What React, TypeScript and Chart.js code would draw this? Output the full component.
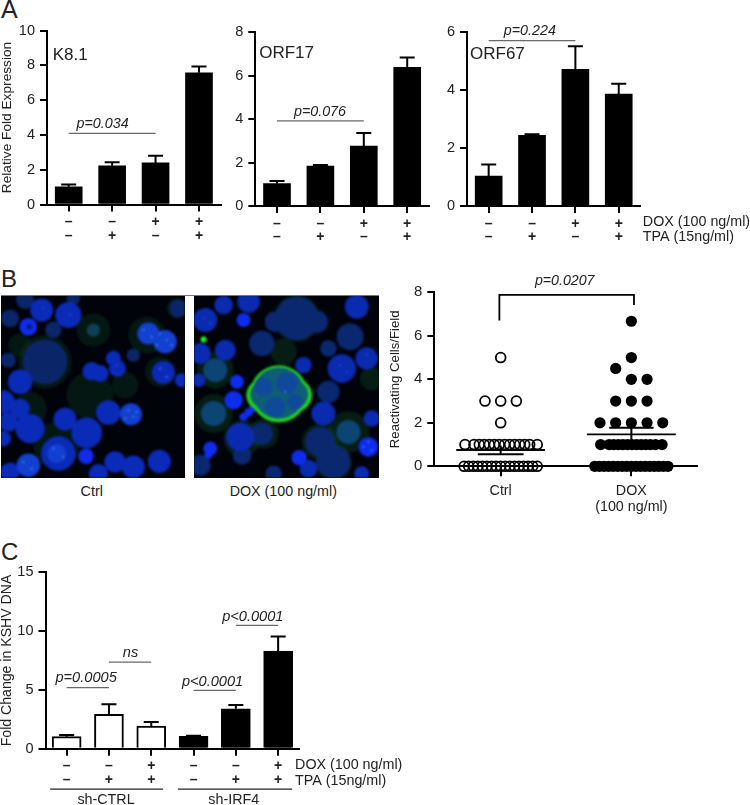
import React, { useEffect, useRef } from "react";
import { Chart, registerables } from "chart.js";

Chart.register(...registerables);
Chart.defaults.font.family = "'Liberation Sans', Arial, sans-serif";
Chart.defaults.color = "#222";

// ---------- Panel A ----------
const conditionLabels = [["–", "–"], ["–", "+"], ["+", "–"], ["+", "+"]];
const k81Values = [1.02, 2.22, 2.39, 7.57];
const k81Tops = [1.15, 2.43, 2.8, 7.93];
const orf17Values = [1.03, 1.84, 2.76, 6.39];
const orf17Tops = [1.15, 1.89, 3.36, 6.84];
const orf67Values = [1.03, 2.44, 4.72, 3.87];
const orf67Tops = [1.43, 2.48, 5.52, 4.22];
const k81PLine = [4.09, null, 4.09, null];
const orf17PLine = [3.92, null, 3.92, null];
const orf67PLine = [5.71, null, 5.71, null];

// ---------- Panel B images (nuclei: x, y, radius) ----------
type P = number[];
const ctrlHalo: P[] = [[135,290,80],[270,390,70],[375,360,40],[170,540,70],[280,195,50],[60,240,35],[480,320,45],[440,210,55],[90,430,50],[530,130,30]];
const ctrlDim: P[] = [[135,290,60],[30,160,24],[75,105,24],[160,195,22],[220,100,18],[535,130,24],[25,285,20],[400,270,18]];
const ctrlTeal: P[] = [[280,195,20]];
const ctrlMid: P[] = [[125,135,30],[205,150,34],[60,350,32],[275,318,24],[300,325,22],[340,280,20],[352,310,22],[490,322,30],[545,345,18],[60,430,26],[10,410,30],[90,490,38],[25,470,25],[195,462,30],[325,442,32],[260,503,40],[175,565,45],[345,590,28],[400,605,30],[478,588,30],[295,625,25],[30,620,25],[10,520,20]];
const ctrlLight: P[] = [[445,205,30],[495,230,32],[393,447,30],[85,600,32],[170,565,26]];
const ctrlBright: P[] = [[85,185,25],[258,573,22]];
const ctrlHole: P[] = [[88,185,8]];
const ctrlSpeck: P[] = [[430,195,3],[455,215,3],[480,205,3],[500,225,3],[515,240,3],[470,240,3],[385,435,3],[400,455,3],[410,440,3],[375,460,3],[70,590,3],[95,610,3],[160,550,3],[190,575,3],[480,310,3],[500,335,3],[130,130,2],[210,150,2],[350,300,2]];

const doxHalo: P[] = [[645,315,55],[640,445,58],[1045,500,62],[960,530,55],[1000,590,55],[890,160,70],[725,520,55],[790,505,45],[850,260,40],[1115,340,35]];
const doxDim: P[] = [[890,160,58],[950,170,30],[825,170,28],[785,235,34],[985,380,30],[1050,215,36],[1000,590,45],[960,530,40],[785,505,30],[725,570,25],[985,250,22],[600,600,28],[820,625,22]];
const doxTeal: P[] = [[645,315,36],[640,445,38],[1045,500,36]];
const doxMid: P[] = [[615,165,32],[670,120,25],[745,110,30],[600,265,28],[675,255,28],[1070,125,32],[1100,280,30],[1025,310,38],[910,300,22],[595,345,18],[970,445,32],[1115,460,22],[720,515,38],[925,610,24],[1085,625,20]];
const doxBright: P[] = [[730,165,20],[710,350,20],[700,405,26],[730,455,12],[745,442,12],[757,430,11],[1105,545,28],[897,577,22],[630,550,20],[625,568,12]];
const doxGreen: P[] = [[836,386,76],[786,390,42],[886,390,44]];
const doxGreenInner: P[] = [[836,384,68],[790,388,35],[882,388,37]];
const doxInnerNuclei: P[] = [[790,365,26],[860,355,30],[825,425,28],[885,410,22]];
const doxGreenDot: P[] = [[610,223,9]];
const doxSpeck: P[] = [[1105,530,3],[1090,545,3],[1115,555,3],[1020,300,2],[1040,320,2],[1100,270,2],[610,160,2],[630,175,2],[855,380,3]];

// ---------- Panel B dot plot ----------
const ctrlZeroX = [-0.28,-0.245,-0.21,-0.175,-0.14,-0.105,-0.07,-0.035,0,0.035,0.07,0.105,0.14,0.175,0.21,0.245,0.28];
const ctrlOneX = [-0.273,-0.204,-0.164,-0.126,-0.087,-0.049,-0.011,0.03,0.068,0.107,0.145,0.184,0.222,0.28];
const ctrlUpper = [[0,2],[-0.12,3],[0,3],[0.12,3],[0,5]];
const doxZeroX = [-0.28,-0.245,-0.21,-0.175,-0.14,-0.105,-0.07,-0.035,0,0.035,0.07,0.105,0.14,0.175,0.21,0.245,0.28];
const doxOneX = [-0.235,-0.17,-0.135,-0.1,-0.065,-0.03,0.005,0.04,0.075,0.11,0.145,0.185,0.235];
const doxUpper = [[-0.24,2],[-0.12,2],[0,2],[0.12,2],[0.24,2],[-0.12,3],[0,3],[0.12,3],[-0.12,4.5],[0,4],[0.12,4],[0,5],[0,6.67]];
const ctrlMean = 0.75, ctrlSemLow = 0.55, ctrlSemHigh = 0.95;
const doxMean = 1.47, doxSemLow = 1.17, doxSemHigh = 1.77;
const bracketPoints = [[-0.01,6.7],[-0.01,7.88],[1.02,7.88],[1.02,7.42]];
const dotCategoryLabels: (string | string[])[] = ["Ctrl", ["DOX", "(100 ng/ml)"]];

// ---------- Panel C ----------
const shLabels = [["–", "–"], ["–", "+"], ["+", "+"], ["–", "–"], ["–", "+"], ["+", "+"]];
const dnaValues = [1.02, 2.92, 1.93, 1.05, 3.4, 8.31];
const dnaTops = [1.16, 3.77, 2.27, 1.1, 3.71, 9.55];
const dnaColors = ["#fff", "#fff", "#fff", "#000", "#000", "#000"];
const cLine1 = [5.19, 5.19, null, null, null, null];
const cLine2 = [null, 7.37, 7.37, null, null, null];
const cLine3 = [null, null, null, 4.96, 4.96, null];
const cLine4 = [null, null, null, null, 10.49, 10.49];
const cGroups = [
  { text: "sh-CTRL", from: -0.39, to: 2.28, mid: 0.93 },
  { text: "sh-IRF4", from: 2.63, to: 5.33, mid: 3.95 },
];

type Label = { text: string; x: number; y: number; size?: number; italic?: boolean; align?: CanvasTextAlign };

const labelPlugin = (labels: Label[]) => ({
  id: "labels",
  afterDraw(chart: any) {
    const { ctx, scales } = chart;
    ctx.save();
    ctx.fillStyle = "#222";
    ctx.textBaseline = "middle";
    for (const l of labels) {
      ctx.font = `${l.italic ? "italic " : ""}${l.size ?? 14.3}px 'Liberation Sans', Arial, sans-serif`;
      ctx.textAlign = l.align ?? "center";
      ctx.fillText(l.text, scales.x.getPixelForValue(l.x), scales.y.getPixelForValue(l.y));
    }
    ctx.restore();
  },
});

const whiskerPlugin = (values: number[], tops: number[], cap: number) => ({
  id: "whiskers",
  beforeDatasetsDraw(chart: any) {
    const { ctx, scales } = chart;
    ctx.save();
    ctx.strokeStyle = "#000";
    ctx.lineWidth = 2;
    values.forEach((v, i) => {
      const x = scales.x.getPixelForValue(i);
      const y0 = scales.y.getPixelForValue(v);
      const y1 = scales.y.getPixelForValue(tops[i]);
      ctx.beginPath();
      ctx.moveTo(x, y0);
      ctx.lineTo(x, y1);
      ctx.moveTo(x - cap / 2, y1);
      ctx.lineTo(x + cap / 2, y1);
      ctx.stroke();
    });
    ctx.restore();
  },
});

const groupPlugin = {
  id: "groups",
  afterDraw(chart: any) {
    const { ctx, scales } = chart;
    ctx.save();
    ctx.strokeStyle = "#222";
    ctx.lineWidth = 1.2;
    ctx.fillStyle = "#222";
    ctx.textAlign = "center";
    ctx.textBaseline = "middle";
    ctx.font = "14.3px 'Liberation Sans', Arial, sans-serif";
    for (const g of cGroups) {
      const y = scales.y.getPixelForValue(-3.43);
      ctx.beginPath();
      ctx.moveTo(scales.x.getPixelForValue(g.from), y);
      ctx.lineTo(scales.x.getPixelForValue(g.to), y);
      ctx.stroke();
      ctx.fillText(g.text, scales.x.getPixelForValue(g.mid), scales.y.getPixelForValue(-4.37));
    }
    ctx.restore();
  },
};

const axisGrid = { display: true, drawOnChartArea: false, drawTicks: true, tickLength: 7, color: "#000", lineWidth: 2 };
const axisBorder = { display: true, color: "#000", width: 2 };

const pLine = (data: (number | null)[]) => ({
  type: "line" as const,
  data,
  spanGaps: true,
  pointRadius: 0,
  borderColor: "#6a6a6a",
  borderWidth: 1.3,
  clip: false as any,
});

function barConfig(o: {
  labels: string[][]; values: number[]; tops: number[]; lines: (number | null)[][]; max: number; step: number;
  left: number; top: number; bottom: number; right: number; thickness: number; colors: string | string[];
  border: number; title?: string; titleSize?: number; tickSize: number; tickPad: number; tickLine: number;
  yPad: number; texts: Label[]; extra?: any[];
}) {
  return {
    type: "bar",
    data: {
      labels: o.labels,
      datasets: [
        ...o.lines.map(pLine),
        { type: "bar", data: o.values, backgroundColor: o.colors, borderColor: "#000", borderWidth: o.border, barThickness: o.thickness },
      ],
    },
    options: {
      responsive: false,
      animation: false,
      layout: { padding: { top: o.top, right: o.right, left: 0, bottom: 0 } },
      plugins: { legend: { display: false }, tooltip: { enabled: false } },
      scales: {
        x: {
          type: "category",
          offset: true,
          afterFit: (s: any) => { s.height = o.bottom; },
          grid: { ...axisGrid, offset: false },
          border: axisBorder,
          ticks: { autoSkip: false, maxRotation: 0, minRotation: 0, padding: o.tickPad, color: "#222", font: { size: o.tickSize, weight: "bold", lineHeight: o.tickLine / o.tickSize } },
        },
        y: {
          min: 0,
          max: o.max,
          afterFit: (s: any) => { s.width = o.left; },
          grid: axisGrid,
          border: axisBorder,
          ticks: { stepSize: o.step, padding: o.yPad, color: "#222", font: { size: 14.5 } },
          title: o.title ? { display: true, text: o.title, padding: 0, color: "#222", font: { size: o.titleSize, lineHeight: 1 } } : { display: false },
        },
      },
    },
    plugins: [whiskerPlugin(o.values, o.tops, 15), labelPlugin(o.texts), ...(o.extra ?? [])],
  };
}

const toBubbles = (pts: P[], grow: number) => pts.map(([x, y, r]) => ({ x, y, r: (r * grow) / 3 }));

function imageConfig(layers: { pts: P[]; color: string; grow?: number }[], xMin: number, xMax: number) {
  return {
    type: "bubble",
    data: {
      datasets: layers.map((l, i) => ({
        data: toBubbles(l.pts, l.grow ?? 1),
        backgroundColor: l.color,
        borderWidth: 0,
        order: layers.length - i,
      })),
    },
    options: {
      responsive: false,
      animation: false,
      layout: { padding: 0, autoPadding: false },
      plugins: { legend: { display: false }, tooltip: { enabled: false } },
      scales: {
        x: { display: false, min: xMin, max: xMax },
        y: { display: false, min: 90, max: 638, reverse: true },
      },
    },
  };
}

const ctrlImage = () => imageConfig([
  { pts: ctrlHalo, color: "rgba(12,56,30,0.4)" },
  { pts: ctrlDim, color: "#0a2668", grow: 1.12 },
  { pts: ctrlTeal, color: "#0d4058" },
  { pts: ctrlMid, color: "#0a2ab8", grow: 1.15 },
  { pts: ctrlLight, color: "#1240d0", grow: 1.1 },
  { pts: ctrlBright, color: "#0e2cec", grow: 1.05 },
  { pts: ctrlHole, color: "#0a1a80" },
  { pts: ctrlSpeck, color: "#4c90e8" },
], 3, 555);

const doxImage = () => imageConfig([
  { pts: doxHalo, color: "rgba(14,66,34,0.42)" },
  { pts: doxDim, color: "#0a2870", grow: 1.12 },
  { pts: doxTeal, color: "#0c4474" },
  { pts: doxMid, color: "#0a2ab0", grow: 1.12 },
  { pts: doxBright, color: "#0e2cec", grow: 1.05 },
  { pts: doxGreen, color: "#22d022", grow: 1.13 },
  { pts: doxGreenInner, color: "#0e5f74", grow: 1.13 },
  { pts: doxInnerNuclei, color: "#0f4a9a", grow: 1.1 },
  { pts: doxGreenDot, color: "#22f022" },
  { pts: doxSpeck, color: "#4c90e8" },
], 581, 1137);

const segment = (points: number[][], width = 2) => ({
  type: "scatter" as const,
  data: points.map(([x, y]) => ({ x, y })),
  showLine: true,
  pointRadius: 0,
  borderColor: "#000",
  borderWidth: width,
  clip: false as any,
  order: 0,
});

const dots = (points: number[][], filled: boolean) => ({
  type: "scatter" as const,
  data: points.map(([x, y]) => ({ x, y })),
  pointRadius: filled ? 5.6 : 4.9,
  pointBorderWidth: filled ? 0 : 1.8,
  pointBackgroundColor: filled ? "#000" : "rgba(0,0,0,0)",
  pointBorderColor: "#000",
  clip: false as any,
  order: 1,
});

const rowAt = (xs: number[], y: number, offset: number) => xs.map((x) => [x + offset, y]);

const dotConfig = () => ({
  type: "scatter",
  data: {
    datasets: [
      dots([...rowAt(ctrlZeroX, 0, 0), ...rowAt(ctrlOneX, 1, 0), ...ctrlUpper], false),
      dots([...rowAt(doxZeroX, 0, 1), ...rowAt(doxOneX, 1, 1), ...doxUpper.map(([x, y]) => [x + 1, y])], true),
      segment([[-0.34, ctrlMean], [0.34, ctrlMean]], 1.8),
      segment([[-0.175, ctrlSemLow], [0.175, ctrlSemLow]]),
      segment([[0, ctrlSemLow], [0, ctrlSemHigh]]),
      segment([[0.66, doxMean], [1.34, doxMean]], 1.8),
      segment([[0.83, doxSemHigh], [1.17, doxSemHigh]]),
      segment([[1, doxSemLow], [1, doxSemHigh]]),
      segment(bracketPoints, 1.8),
    ],
  },
  options: {
    responsive: false,
    animation: false,
    layout: { padding: { top: 27.3, right: 53.3, left: 0, bottom: 0 }, autoPadding: false },
    plugins: { legend: { display: false }, tooltip: { enabled: false } },
    scales: {
      x: {
        type: "linear",
        min: -0.508,
        max: 1.5,
        afterFit: (s: any) => { s.height = 58.7; },
        afterBuildTicks: (s: any) => { s.ticks = [{ value: 0 }, { value: 1 }]; },
        grid: { ...axisGrid, tickLength: 10 },
        border: axisBorder,
        ticks: {
          autoSkip: false, maxRotation: 0, minRotation: 0, padding: 6, color: "#222",
          font: { size: 14.3, lineHeight: 1.16 },
          callback: (v: number) => dotCategoryLabels[v],
        },
      },
      y: {
        min: 0,
        max: 8,
        afterFit: (s: any) => { s.width = 45.3; },
        grid: axisGrid,
        border: axisBorder,
        ticks: { stepSize: 2, padding: 5, color: "#222", font: { size: 15 } },
        title: { display: true, text: "Reactivating Cells/Field", padding: 0, color: "#222", font: { size: 13.2, lineHeight: 1 } },
      },
    },
  },
  plugins: [labelPlugin([{ text: "p=0.0207", x: 0.49, y: 8.52, italic: true, size: 14.2 }])],
});

const a1 = () => barConfig({
  labels: conditionLabels, values: k81Values, tops: k81Tops, lines: [k81PLine], max: 10, step: 2,
  left: 47, top: 30.5, bottom: 45.5, right: 4.3, thickness: 27, colors: "#000", border: 0,
  title: "Relative Fold Expression", titleSize: 13.7, tickSize: 14, tickPad: 4, tickLine: 13.5, yPad: 5,
  texts: [
    { text: "K8.1", x: -0.37, y: 8.59, size: 17, align: "left" },
    { text: "p=0.034", x: 0.78, y: 4.63, italic: true },
  ],
});
const a2 = () => barConfig({
  labels: conditionLabels, values: orf17Values, tops: orf17Tops, lines: [orf17PLine], max: 8, step: 2,
  left: 30.3, top: 32.3, bottom: 44, right: 6.1, thickness: 27, colors: "#000", border: 0,
  tickSize: 14, tickPad: 4, tickLine: 13.5, yPad: 5,
  texts: [
    { text: "ORF17", x: -0.41, y: 7.05, size: 17, align: "left" },
    { text: "p=0.076", x: 0.99, y: 4.33, italic: true },
  ],
});
const a3 = () => barConfig({
  labels: conditionLabels, values: orf67Values, tops: orf67Tops, lines: [orf67PLine], max: 6, step: 2,
  left: 32, top: 32.3, bottom: 44, right: 109.6, thickness: 27, colors: "#000", border: 0,
  tickSize: 14, tickPad: 4, tickLine: 13.5, yPad: 5,
  texts: [
    { text: "ORF67", x: -0.43, y: 5.25, size: 17, align: "left" },
    { text: "p=0.224", x: 0.95, y: 6.05, italic: true },
    { text: "DOX (100 ng/ml)", x: 3.557, y: -0.543, align: "left" },
    { text: "TPA (15ng/ml)", x: 3.557, y: -1.08, align: "left" },
  ],
});
const c1 = () => barConfig({
  labels: shLabels, values: dnaValues, tops: dnaTops, lines: [cLine1, cLine2, cLine3, cLine4], max: 15, step: 5,
  left: 45.5, top: 37.3, bottom: 56.3, right: 120.7, thickness: 29, colors: dnaColors, border: 2,
  title: "Fold Change in KSHV DNA", titleSize: 14.1, tickSize: 14, tickPad: 3, tickLine: 14.3, yPad: 5,
  texts: [
    { text: "p=0.0005", x: 0.46, y: 5.99, italic: true, size: 14.6 },
    { text: "ns", x: 1.51, y: 8.11, italic: true, size: 14.6 },
    { text: "p<0.0001", x: 3.45, y: 5.7, italic: true, size: 14.6 },
    { text: "p<0.0001", x: 4.4, y: 11.22, italic: true, size: 14.6 },
    { text: "DOX (100 ng/ml)", x: 5.4, y: -1.39, align: "left" },
    { text: "TPA (15ng/ml)", x: 5.4, y: -2.75, align: "left" },
  ],
  extra: [groupPlugin],
});

function Panel({ make, left, top, width, height, style }: any) {
  const ref = useRef<HTMLCanvasElement>(null);
  useEffect(() => {
    const chart = new Chart(ref.current as any, make());
    return () => chart.destroy();
  }, []);
  return (
    <canvas
      ref={ref}
      width={width}
      height={height}
      style={{ position: "absolute", left, top, width, height, display: "block", ...style }}
    />
  );
}

const textStyle = (left: number, top: number, size: number): React.CSSProperties => ({
  position: "absolute", left, top, fontSize: size, lineHeight: `${size}px`, color: "#222",
  fontFamily: "'Liberation Sans', Arial, sans-serif", whiteSpace: "nowrap",
});

export default function App() {
  return (
    <div style={{ position: "absolute", left: 0, top: 0, width: 750, height: 805, overflow: "hidden", background: "#fff" }}>
      <div style={textStyle(1, -3, 25)}>A</div>
      <div style={textStyle(1, 266.5, 24)}>B</div>
      <div style={textStyle(1, 539.5, 24)}>C</div>

      <Panel make={a1} left={0} top={0} width={225} height={250} />
      <Panel make={a2} left={225} top={0} width={210} height={250} />
      <Panel make={a3} left={435} top={0} width={315} height={250} />

      <div style={{ position: "absolute", left: 1, top: 295, width: 184, height: 183, overflow: "hidden", background: "#00030a" }}>
        <Panel make={ctrlImage} left={0} top={0} width={184} height={183} style={{ filter: "blur(1.3px)" }} />
      </div>
      <div style={{ position: "absolute", left: 193.5, top: 295, width: 185, height: 183, overflow: "hidden", background: "#00030a" }}>
        <Panel make={doxImage} left={0} top={0} width={185} height={183} style={{ filter: "blur(1.3px)" }} />
      </div>
      <div style={{ position: "absolute", left: 1, top: 294.5, width: 377.5, height: 0, borderTop: "1px solid #777" }} />
      <div style={{ ...textStyle(0, 484, 14.3), width: 183.4, textAlign: "center" }}>Ctrl</div>
      <div style={{ ...textStyle(183.3, 484, 14.3), width: 200, textAlign: "center" }}>DOX (100 ng/ml)</div>

      <Panel make={dotConfig} left={389} top={265} width={361} height={260} />
      <Panel make={c1} left={0} top={535} width={420} height={270} />
    </div>
  );
}
